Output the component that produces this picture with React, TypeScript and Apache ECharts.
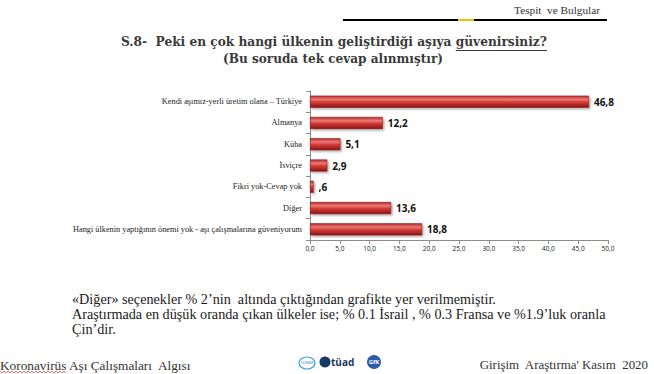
import React, { useEffect, useRef } from "react";
import * as echarts from "echarts";

const categories = [
  "Kendi aşımız-yerli üretim olana – Türkiye",
  "Almanya",
  "Küba",
  "İsviçre",
  "Fikri yok-Cevap yok",
  "Diğer",
  "Hangi ülkenin yaptığının önemi yok - aşı çalışmalarına güveniyorum",
];
const values = [46.8, 12.2, 5.1, 2.9, 0.6, 13.6, 18.8];
const valueLabels = ["46,8", "12,2", "5,1", "2,9", ",6", "13,6", "18,8"];

const title1 = "S.8-  Peki en çok hangi ülkenin geliştirdiği aşıya ";
const title1u = "güvenirsiniz?";
const title2 = "(Bu soruda tek cevap alınmıştır)";
const notes = [
  "«Diğer» seçenekler % 2’nin  altında çıktığından grafikte yer verilmemiştir.",
  "Araştırmada en düşük oranda çıkan ülkeler ise; % 0.1 İsrail , % 0.3 Fransa ve %1.9’luk oranla",
  "Çin’dir.",
];
const footerLeft = "Koronavirüs Aşı Çalışmaları  Algısı";
const footerRight = "Girişim  Araştırma' Kasım  2020";
const headerText = "Tespit  ve Bulgular";

function measure(text: string, font: string): number {
  const c = document.createElement("canvas");
  const ctx = c.getContext("2d")!;
  ctx.font = font;
  return ctx.measureText(text).width;
}
function fitSize(text: string, weight: string, family: string, target: number): number {
  const w = measure(text, `${weight} 20px ${family}`);
  return Math.round(((20 * target) / w) * 100) / 100;
}

export default function App() {
  const ref = useRef<HTMLDivElement>(null);
  useEffect(() => {
    document.body.style.margin = "0";
    const chart = echarts.init(ref.current!, null, { renderer: "svg" });
    const serif = "'DejaVu Serif', serif";
    const tserif = "'Liberation Serif', serif";
    const sans = "'Open Sans', 'Noto Sans', sans-serif";

    const tSize = fitSize(title1 + title1u, "bold", serif, 426);
    const tFont = `bold ${tSize}px ${serif}`;
    const uStart = 121 + measure(title1, tFont);
    const t2Size = Math.min(tSize, fitSize(title2, "bold", serif, 220));
    const nSize = fitSize(notes[1], "normal", tserif, 534);
    const flSize = fitSize(footerLeft, "normal", tserif, 192);
    const frSize = fitSize(footerRight, "normal", tserif, 169);
    const hSize = fitSize(headerText, "normal", tserif, 86);
    const cSize = fitSize(categories[6], "normal", tserif, 229);

    const wave: number[][] = [];
    const kw = measure("Koronavirüs", `${flSize}px ${tserif}`);
    for (let i = 0; i <= Math.round(kw / 2); i++) wave.push([i * 2, i % 2 === 0 ? 371 : 373]);

    chart.setOption({
      animation: false,
      backgroundColor: "#ffffff",
      grid: { left: 310, right: 46, top: 91, bottom: 134, containLabel: false },
      xAxis: {
        type: "value",
        min: 0,
        max: 50,
        interval: 5,
        axisLine: { show: true, lineStyle: { color: "#8c8c8c" } },
        axisTick: { show: true, length: 4, lineStyle: { color: "#8c8c8c" } },
        splitLine: { show: false },
        axisLabel: {
          formatter: (v: number) => v.toFixed(1).replace(".", ","),
          fontSize: 6.5,
          color: "#222",
          fontFamily: sans,
          margin: 5,
        },
      },
      yAxis: {
        type: "category",
        data: categories,
        inverse: true,
        axisLine: { show: true, lineStyle: { color: "#8c8c8c" } },
        axisTick: { show: true, length: 4, lineStyle: { color: "#8c8c8c" } },
        axisLabel: { fontSize: cSize, color: "#222", fontFamily: tserif, margin: 8 },
      },
      series: [
        {
          type: "bar",
          data: values,
          barWidth: 12,
          itemStyle: {
            color: new echarts.graphic.LinearGradient(0, 0, 0, 1, [
              { offset: 0, color: "#b52a2a" },
              { offset: 0.3, color: "#ec7a76" },
              { offset: 0.55, color: "#d23a36" },
              { offset: 1, color: "#8a1515" },
            ]),
            borderColor: "#7a1010",
            borderWidth: 0.5,
            shadowColor: "rgba(0,0,0,0.35)",
            shadowOffsetX: 1.5,
            shadowOffsetY: 1.5,
            shadowBlur: 2,
          },
          label: {
            show: true,
            position: "right",
            distance: 5,
            formatter: (p: any) => valueLabels[p.dataIndex],
            fontSize: 10,
            fontWeight: "bold",
            color: "#111",
            fontFamily: sans,
          },
        },
      ],
      graphic: [
        { type: "line", shape: { x1: 343, y1: 20, x2: 607, y2: 20 }, style: { stroke: "#000", lineWidth: 2 } },
        { type: "line", shape: { x1: 458, y1: 20, x2: 474, y2: 20 }, style: { stroke: "#f2c200", lineWidth: 2 } },
        { type: "text", x: 600, y: 15, style: { text: headerText, font: `${hSize}px ${tserif}`, fill: "#333", textAlign: "right", textVerticalAlign: "bottom" } },
        {
          type: "text", x: 121, y: 42,
          style: { text: title1 + title1u, font: tFont, fill: "#3a3a3a", textAlign: "left", textVerticalAlign: "middle" },
        },
        { type: "line", shape: { x1: uStart, y1: 50.5, x2: 547, y2: 50.5 }, style: { stroke: "#3a3a3a", lineWidth: 1 } },
        {
          type: "text", x: 333, y: 59,
          style: { text: title2, font: `bold ${t2Size}px ${serif}`, fill: "#3a3a3a", textAlign: "center", textVerticalAlign: "middle" },
        },
        ...notes.map((t, i) => ({
          type: "text", x: 72, y: 299 + i * 14.8,
          style: { text: t, font: `${nSize}px ${tserif}`, fill: "#1a1a1a", textVerticalAlign: "middle" },
        })),
        { type: "text", x: 0, y: 365, style: { text: footerLeft, font: `${flSize}px ${tserif}`, fill: "#333", textVerticalAlign: "middle" } },
        { type: "polyline", shape: { points: wave }, style: { stroke: "#e03030", lineWidth: 0.7, fill: "none" } },
        { type: "text", x: 648, y: 364, style: { text: footerRight, font: `${frSize}px ${tserif}`, fill: "#333", textAlign: "right", textVerticalAlign: "middle" } },
        { type: "ellipse", shape: { cx: 307, cy: 363, rx: 8, ry: 6 }, style: { stroke: "#3aa0d8", lineWidth: 1.2, fill: "#fff" } },
        { type: "text", x: 307, y: 363, style: { text: "ESOMAR", font: `3px ${sans}`, fill: "#3a7ab8", textAlign: "center", textVerticalAlign: "middle" } },
        { type: "circle", shape: { cx: 325, cy: 362, r: 5.5 }, style: { fill: "#163a66" } },
        { type: "text", x: 331, y: 362, style: { text: "tüad", font: `bold 10px ${sans}`, fill: "#163a66", textVerticalAlign: "middle" } },
        { type: "circle", shape: { cx: 374, cy: 362, r: 7 }, style: { fill: "#2d5ca8" } },
        { type: "text", x: 374, y: 362, style: { text: "GfK", font: `bold 6px ${sans}`, fill: "#fff", textAlign: "center", textVerticalAlign: "middle" } },
      ],
    });
    return () => chart.dispose();
  }, []);
  return <div ref={ref} style={{ width: 654, height: 374 }} />;
}
